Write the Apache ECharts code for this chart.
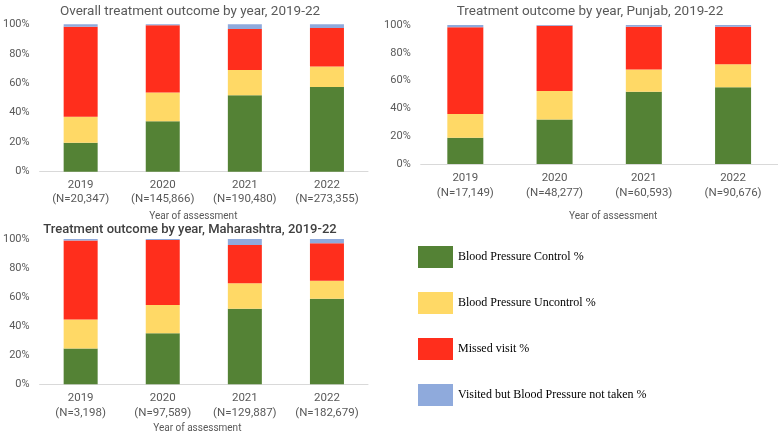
<!DOCTYPE html>
<html><head><meta charset="utf-8">
<script src="https://cdn.jsdelivr.net/npm/echarts@6/dist/echarts.min.js"></script>
<style>html,body{margin:0;padding:0;background:#fff}#c{width:778px;height:434px}</style>
</head><body><div id="c"></div>
<script>
const seriesNames = ['Blood Pressure Control %','Blood Pressure Uncontrol %','Missed visit %','Visited but Blood Pressure not taken %'];
const colors = ['#548235','#FFD966','#FF2E1C','#8FAADC'];
const years = ['2019','2020','2021','2022'];
const overallN = ['20,347','145,866','190,480','273,355'];
const punjabN = ['17,149','48,277','60,593','90,676'];
const mahaN = ['3,198','97,589','129,887','182,679'];
// values per panel: [control, uncontrol, missed, notTaken]
const overallControl = [19.7, 34.2, 51.8, 57.5];
const overallUncontrol = [17.6, 19.6, 17.2, 13.8];
const overallMissed = [61.1, 45.5, 27.8, 26.2];
const overallNotTaken = [1.6, 0.7, 3.2, 2.5];
const punjabControl = [18.9, 32.1, 52.0, 55.2];
const punjabUncontrol = [17.1, 20.4, 15.9, 16.5];
const punjabMissed = [62.3, 47.0, 30.9, 27.1];
const punjabNotTaken = [1.7, 0.5, 1.2, 1.2];
const mahaControl = [24.6, 35.2, 52.0, 58.9];
const mahaUncontrol = [20.0, 19.4, 17.6, 12.4];
const mahaMissed = [54.3, 44.7, 26.3, 25.7];
const mahaNotTaken = [1.1, 0.7, 4.1, 3.0];

const panels = [
  {title:'Overall treatment outcome by year, 2019-22', N: overallN, data:[overallControl,overallUncontrol,overallMissed,overallNotTaken]},
  {title:'Treatment outcome by year, Punjab, 2019-22', N: punjabN, data:[punjabControl,punjabUncontrol,punjabMissed,punjabNotTaken]},
  {title:'Treatment outcome by year, Maharashtra, 2019-22', N: mahaN, data:[mahaControl,mahaUncontrol,mahaMissed,mahaNotTaken]}
];
const grids = [
  {left:37, width:331, top:24.3, height:147.4},
  {left:420.7, width:357, top:25, height:139},
  {left:37, width:331, top:239, height:153.3}
];
const nameGaps = [40, 47.7, 38.7];
const namePads = [[0,21,0,0],[0,0,0,28],[0,13,0,0]];
const labelMargins = [6, 7, 7];
const barWidths = [34, 36, 34];
const titlePos = [{x:185,y:0,size:13.5,color:'#595959',w:'normal'},{x:585,y:0,size:13.5,color:'#595959',w:'normal'},{x:185,y:218,size:13,color:'#404040',w:500}];
const font = 'Roboto, "Liberation Sans", sans-serif';

const option = {
  animation:false,
  title: panels.map((p,i)=>({text:p.title, left:titlePos[i].x, top:titlePos[i].y, textAlign:'center',
    textStyle:{fontSize:titlePos[i].size, fontWeight:titlePos[i].w, color:titlePos[i].color, fontFamily:font}})),
  grid: grids,
  xAxis: panels.map((p,i)=>({type:'category', gridIndex:i, data: years.map((y,k)=>y+'\n(N='+p.N[k]+')'),
    axisLine:{lineStyle:{color:'#D9D9D9'}}, axisTick:{show:false},
    axisLabel:{interval:0, color:'#595959', fontSize:11.5, lineHeight:14.5, margin:labelMargins[i], fontFamily:font},
    name:'Year of assessment', nameLocation:'middle', nameGap:nameGaps[i],
    nameTextStyle:{color:'#595959', fontSize:10, fontFamily:font, padding:namePads[i]}})),
  yAxis: panels.map((p,i)=>({type:'value', gridIndex:i, min:0, max:100, interval:20,
    axisLine:{show:false}, axisTick:{show:false}, splitLine:{show:false},
    axisLabel:{formatter:'{value}%', color:'#595959', fontSize:11, margin:10, fontFamily:font}})),
  legend:{orient:'vertical', left:413, top:241, itemWidth:35, itemHeight:22, itemGap:24,
    textStyle:{fontFamily:'"Liberation Serif", "DejaVu Serif", serif', fontSize:12, color:'#000'},
    data: seriesNames, icon:'rect'},
  series: []
};
panels.forEach((p,i)=>{
  seriesNames.forEach((n,j)=>{
    option.series.push({type:'bar', name:n, xAxisIndex:i, yAxisIndex:i, stack:'s'+i, data:p.data[j],
      barWidth:barWidths[i], itemStyle:{color:colors[j]}});
  });
});
const chart = echarts.init(document.getElementById('c'));
chart.setOption(option);
</script></body></html>
